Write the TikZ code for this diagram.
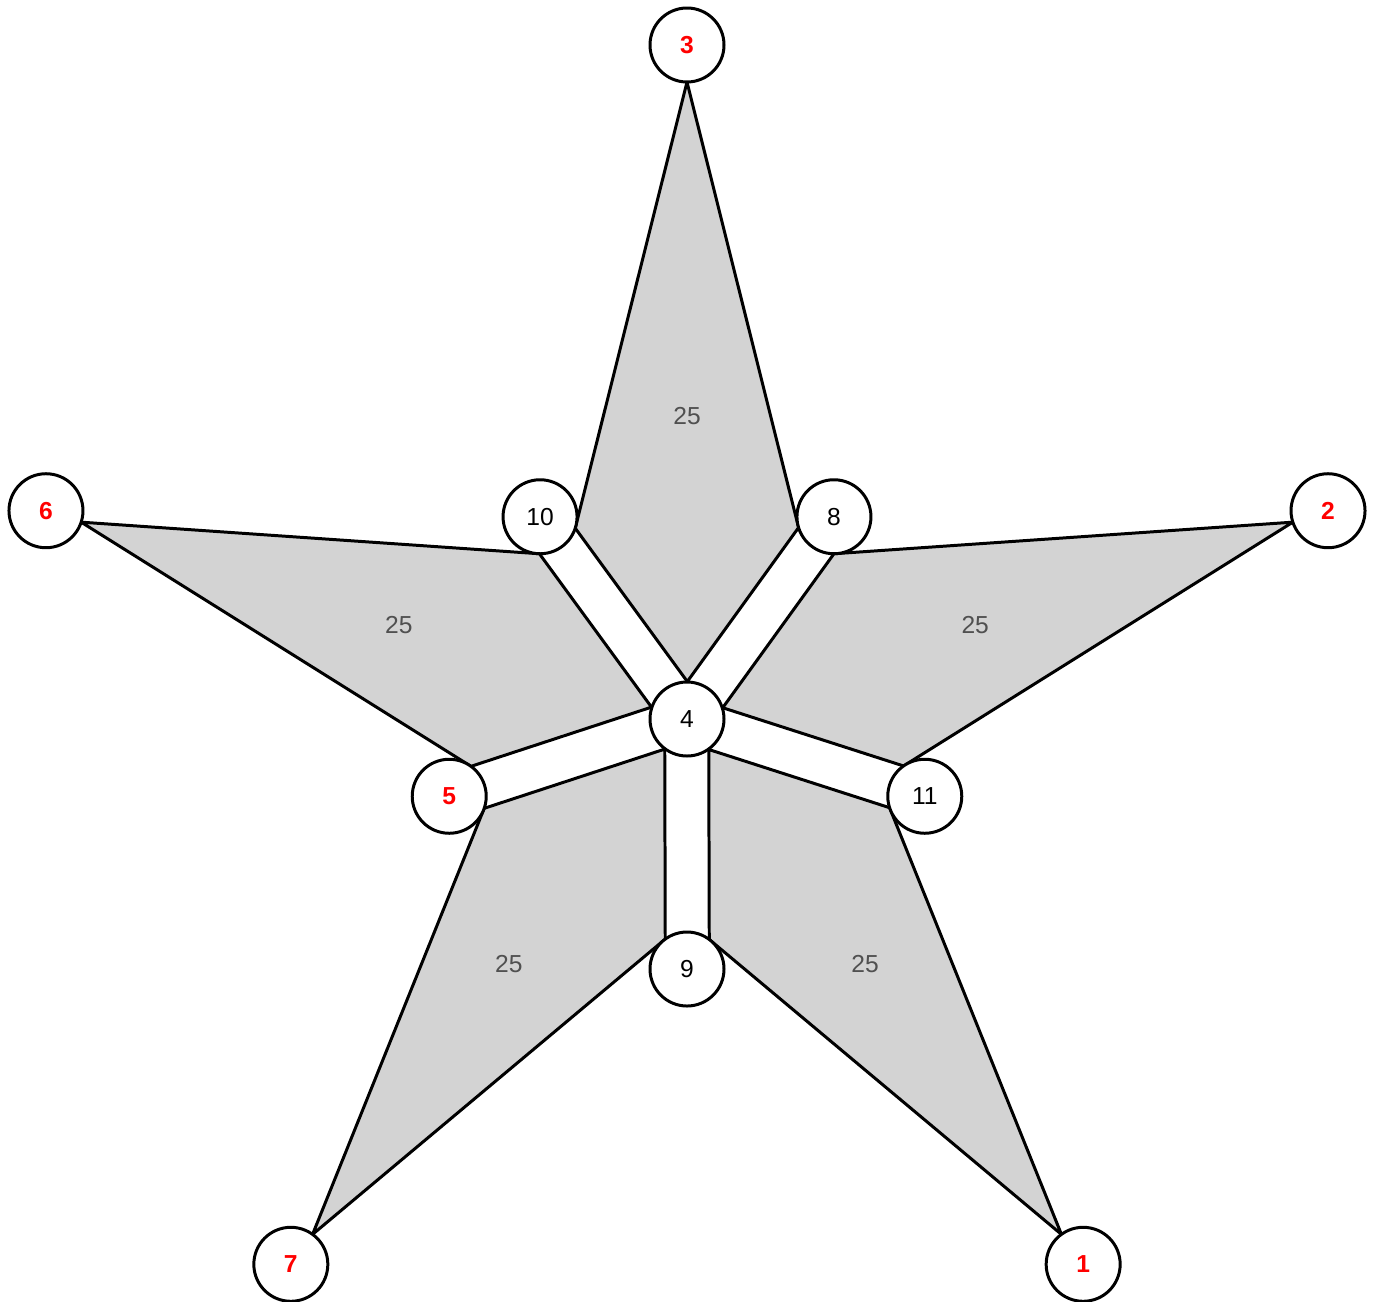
\documentclass[tikz,border=0pt]{standalone}
\usepackage{fontspec}
\setmainfont{Liberation Sans}
\usetikzlibrary{backgrounds}
\definecolor{facegray}{RGB}{211, 211, 211}
\definecolor{weightgray}{RGB}{80, 80, 80}

\begin{document}
\begin{tikzpicture}[
    every node/.style={font=\fontsize{7}{8}\selectfont},
    vtx/.style={circle, draw, fill=white, line width=0.85pt,
      minimum size=0.74cm, inner sep=0pt, outer sep=0pt},
    vtxred/.style={vtx, text=red, font=\fontsize{7}{8}\selectfont\bfseries},
    face/.style={fill=facegray, draw=black, line width=0.85pt, line join=round},
    weight/.style={text=weightgray}
  ]
  \useasboundingbox (-6.87, -5.82) rectangle (6.91, 7.19);

  \pgfmathsetmacro{\rin}{2.5}
  \pgfmathsetmacro{\rout}{6.74}

  % hub and inner ring
  \node[vtx] (v4) at (0, 0) {4};
  \foreach \n/\a/\s in {8/54/vtx, 11/-18/vtx, 9/-90/vtx, 5/198/vtxred, 10/126/vtx} {
    \node[\s] (v\n) at (\a:\rin) {\n};
  }

  % tips of the star
  \foreach \n/\a in {3/90, 2/18, 1/-54, 7/-126, 6/162} {
    \node[vtxred] (v\n) at (\a:\rout) {\n};
  }

  % grey faces, under the nodes
  \begin{pgfonlayer}{background}
    \foreach \o/\b/\a/\p in {3/8/10/90, 2/11/8/18, 1/9/11/-54, 7/5/9/-126, 6/10/5/162} {
      \pgfmathsetmacro{\po}{mod(\p + 540, 360)}
      \pgfmathsetmacro{\pb}{mod(\p + 107.5 + 360, 360)}
      \pgfmathsetmacro{\pl}{mod(\p + 0.5 + 360, 360)}
      \pgfmathsetmacro{\pr}{mod(\p - 0.5 + 360, 360)}
      \pgfmathsetmacro{\pa}{mod(\p - 107.5 + 360, 360)}
      \filldraw[face] (v\o.\po) -- (v\b.\pb) -- (v4.\pl) -- (v4.\pr) -- (v\a.\pa) -- cycle;
    }
  \end{pgfonlayer}

  \foreach \o/\p in {3/90, 2/18, 1/-54, 7/-126, 6/162} {
    \node[weight] (w\o) at (\p:3.03) {25};
  }

\end{tikzpicture}
\end{document}
